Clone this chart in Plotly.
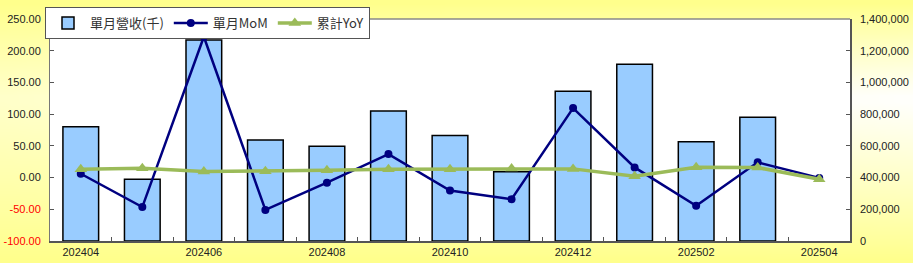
import base64, struct, zlib
import numpy as np
import plotly.graph_objects as go

# ---- data ----
months = ["202404", "202405", "202406", "202407", "202408", "202409", "202410",
          "202411", "202412", "202501", "202502", "202503", "202504"]
revenue = [720000, 389000, 1268000, 637000, 597000, 820000, 666000,
           437000, 944000, 1114000, 626000, 780000, None]
mom = [6.0, -46.5, 222.0, -51.0, -8.0, 37.0, -20.5, -34.0, 109.5, 16.0, -44.5, 24.0, -0.5]
yoy = [13.2, 14.8, 9.5, 10.0, 11.6, 13.2, 13.2, 14.2, 13.7, 2.0, 16.4, 15.8, -2.5]

left_ticks = [-100, -50, 0, 50, 100, 150, 200, 250]
right_ticks = [0, 200000, 400000, 600000, 800000, 1000000, 1200000, 1400000]
x_labels = [m if i % 2 == 0 else "" for i, m in enumerate(months)]

W, H = 913, 263
L, R, T, B = 50, 63, 19, 22

# ---- gradient background image ----
gw, gh = 120, 40
ys = np.linspace(0, 1, gh)[:, None]
xs = np.linspace(0, 1, gw)[None, :]
v = np.where(ys < 0.37, ys / 0.37, (1 - ys) / 0.63)
v = np.clip(v, 0, 1) ** 0.9
h = 0.55 + 0.45 * xs
w = np.clip(v * h, 0, 1)
img = np.zeros((gh, gw, 3), dtype=np.uint8)
img[..., 0] = 255
img[..., 1] = 255
img[..., 2] = (140 + (255 - 140) * w).astype(np.uint8)


def png_uri(a):
    hh, ww, _ = a.shape
    raw = b"".join(b"\x00" + a[r].tobytes() for r in range(hh))

    def chunk(t, d):
        c = struct.pack(">I", len(d)) + t + d
        return c + struct.pack(">I", zlib.crc32(t + d) & 0xFFFFFFFF)

    png = (b"\x89PNG\r\n\x1a\n" + chunk(b"IHDR", struct.pack(">IIBBBBB", ww, hh, 8, 2, 0, 0, 0))
           + chunk(b"IDAT", zlib.compress(raw, 9)) + chunk(b"IEND", b""))
    return "data:image/png;base64," + base64.b64encode(png).decode()


pw, ph = W - L - R, H - T - B

fig = go.Figure()
fig.add_trace(go.Bar(
    x=months, y=revenue, name="單月營收(千)", yaxis="y",
    marker=dict(color="#99CCFF", line=dict(color="#000000", width=1.5)),
))
fig.add_trace(go.Scatter(
    x=months, y=mom, name="單月MoM", yaxis="y2", mode="lines+markers",
    line=dict(color="#000080", width=2.5),
    marker=dict(symbol="circle", size=8, color="#000080"),
))
fig.add_trace(go.Scatter(
    x=months, y=yoy, name="累計YoY", yaxis="y2", mode="lines+markers",
    line=dict(color="#9BBB59", width=3.5),
    marker=dict(symbol="triangle-up", size=11, color="#9BBB59"),
))


def lt(v):
    s = f"{v:.2f}"
    return f"<span style='color:#FF0000'>{s}</span>" if v < 0 else s


fig.update_layout(
    width=W, height=H,
    margin=dict(l=L, r=R, t=T, b=B, pad=0, autoexpand=False),
    paper_bgcolor="#FFFFA0",
    plot_bgcolor="white",
    bargap=0.42,
    showlegend=True,
    font=dict(family="Liberation Sans, Arial, sans-serif", size=11, color="#222222"),
    legend=dict(
        orientation="h", x=-5 / pw, y=1 + (T - 7) / ph, xanchor="left", yanchor="top",
        bgcolor="white", bordercolor="#555555", borderwidth=1,
        font=dict(family="Noto Sans CJK TC, sans-serif", size=13, color="#333333"),
        itemwidth=34, tracegroupgap=0,
    ),
    xaxis=dict(
        type="category", range=[-0.5, len(months) - 0.5],
        tickmode="array", tickvals=months, ticktext=x_labels,
        tickson="boundaries", ticks="inside", ticklen=4, tickcolor="#555555",
        showline=True, linecolor="#555555", linewidth=1.5, mirror=False,
        showgrid=False, zeroline=False, tickfont=dict(size=11, color="#222222"),
    ),
    yaxis=dict(
        side="right", range=[0, 1400000], tickmode="array", tickvals=right_ticks,
        ticktext=[f"{v:,}" for v in right_ticks],
        ticks="inside", ticklen=4, tickcolor="#555555",
        showline=True, linecolor="#555555", linewidth=1.5,
        showgrid=False, zeroline=False, ticklabelstandoff=6,
    ),
    yaxis2=dict(
        overlaying="y", side="left", range=[-100, 250], tickmode="array",
        tickvals=left_ticks, ticktext=[lt(v) for v in left_ticks],
        ticks="inside", ticklen=4, tickcolor="#555555",
        showline=True, linecolor="#777777", linewidth=1,
        showgrid=False, zeroline=False, ticklabelstandoff=6,
    ),
    images=[dict(
        source=png_uri(img), xref="paper", yref="paper",
        x=-L / pw, y=1 + T / ph, sizex=W / pw, sizey=H / ph,
        xanchor="left", yanchor="top", sizing="stretch", layer="below",
    )],
    shapes=[
        dict(type="rect", xref="paper", yref="paper", x0=0, x1=1, y0=0, y1=1,
             fillcolor="white", line=dict(width=0), layer="below"),
        dict(type="line", xref="paper", yref="paper", x0=0, x1=1, y0=1, y1=1,
             line=dict(color="#888888", width=1.5), layer="above"),
    ],
)

fig.write_html("out.html")
